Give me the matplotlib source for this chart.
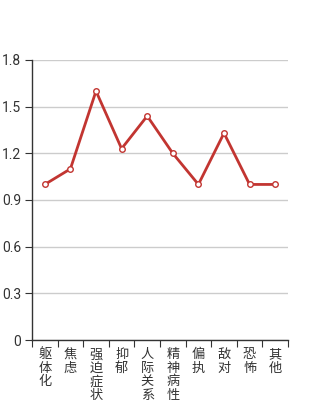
import matplotlib
matplotlib.use("Agg")
import matplotlib.pyplot as plt
import numpy as np

plt.rcParams['font.family'] = ['Noto Sans CJK SC', 'DejaVu Sans']

categories = ["躯体化", "焦虑", "强迫症状", "抑郁", "人际关系敏感", "精神病性", "偏执", "敌对", "恐怖", "其他"]
values = [1.0, 1.1, 1.6, 1.23, 1.44, 1.2, 1.0, 1.33, 1.0, 1.0]
yticks = [0, 0.3, 0.6, 0.9, 1.2, 1.5, 1.8]

fig = plt.figure(figsize=(3.2, 4.0), dpi=100)
ax = fig.add_axes([32/320, 1 - 340/400, 256/320, 280/400])

x = np.arange(len(categories))
ax.plot(x, values, color='#c23531', lw=2, marker='o', ms=4, mfc='white', mec='#c23531', mew=1, zorder=3)

ax.set_xlim(-0.5, len(categories) - 0.5)
ax.set_ylim(0, 1.8)
ax.set_yticks(yticks)
ax.set_yticklabels([f"{v:g}" if v != 0 else "0" for v in yticks], fontsize=10, color='#333333', family='Roboto')
ax.yaxis.grid(True, color='#cccccc', lw=1)
ax.set_axisbelow(True)

ax.set_xticks(np.arange(len(categories) + 1) - 0.5)
ax.set_xticklabels([])
ax.set_xticks(x, minor=True)
ax.set_xticklabels(["\n".join(c) for c in categories], minor=True, fontsize=9.5, color='#333333', va='top', linespacing=1.05)
ax.tick_params(axis='x', which='minor', length=0, pad=6)
ax.tick_params(axis='x', which='major', length=5, color='#333333', direction='out')
ax.tick_params(axis='y', length=5, color='#333333', pad=3)

for s in ['top', 'right']:
    ax.spines[s].set_visible(False)
for s in ['left', 'bottom']:
    ax.spines[s].set_color('#333333')
    ax.spines[s].set_linewidth(1)

fig.savefig("out.png", dpi=100)
